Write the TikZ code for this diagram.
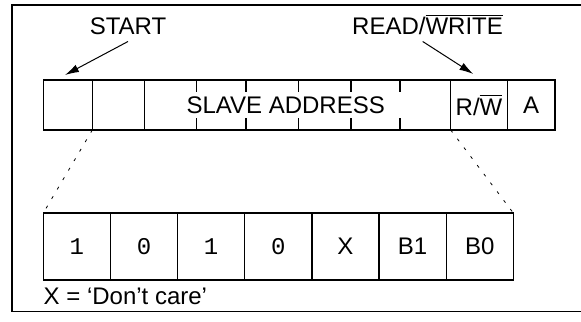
\documentclass[tikz,border=0pt]{standalone}
\usepackage{fontspec}
\setmainfont{Liberation Sans}
\setmonofont{Liberation Mono}
\usetikzlibrary{arrows.meta,positioning}
\tikzstyle{cell} = [draw, line width=0.65pt, inner sep=0pt, outer sep=0pt, minimum height=25pt, font=\fontsize{12}{14}\selectfont]
\tikzstyle{bit} = [cell, minimum width=33.57pt, minimum height=33.5pt]
\tikzstyle{heading} = [font=\fontsize{12}{14}\selectfont]
\tikzstyle{pointer} = [->, >={Latex[length=7pt,width=4pt]}, line width=0.5pt]
\tikzstyle{guide} = [line width=0.4pt, dash pattern=on 1.5pt off 4pt]

\begin{document}
\begin{tikzpicture}[x=0.5pt, y=-0.5pt]
\useasboundingbox (0,0) rectangle (581,321);
% Frame
\draw[line width=0.65pt] (12,5) rectangle (600,311.5);

% Byte on the bus
\node[cell, minimum width=24.5pt, anchor=north west] (s) at (43.3,80) {};
\node[cell, minimum width=26.2pt, right=0pt of s] (a1) {};
\node[cell, minimum width=153pt, right=0pt of a1] (addr) {};
\node[cell, minimum width=28.3pt, right=0pt of addr] (rw) {R/$\overline{\mbox{W}}$};
\node[cell, minimum width=23.85pt, right=0pt of rw] (ack) {A};
\node[heading] (slave) at ([xshift=-6pt]addr.center) {SLAVE ADDRESS};

% Bit ticks
\foreach \x in {196.7,246,298.3,351,400} {
    \draw[line width=0.65pt] (\x,80) -- (\x,92);
    \draw[line width=0.65pt] (\x,118) -- (\x,130);
}

% Labels
\node[heading, anchor=base] (start) at (128,34.5) {START};
\node[heading, anchor=base] (rwtext) at (427.5,34.5) {READ/$\overline{\mbox{WRITE}}$};
\coordinate (startpt) at (65,75);
\coordinate (rwpt) at (473.3,74);
\draw[pointer] ([yshift=-3.5pt]start.base) -- (startpt);
\draw[pointer] ([xshift=-2.4pt,yshift=-3.5pt]rwtext.base) -- (rwpt);

% Address bits
\foreach \b [count=\i] in {\texttt{1},\texttt{0},\texttt{1},\texttt{0},X,B1,B0} {
    \node[bit, anchor=north west] (b\i) at ({43.3+67.14*(\i-1)},213) {\b};
}

% Expansion
\draw[guide] (s.south east) -- (b1.north west);
\draw[guide] (rw.south west) -- (b7.north east);

\node[heading, anchor=west, inner sep=0pt] (note) at (43.3,296) {X = ‘Don’t care’};
\end{tikzpicture}
\end{document}
